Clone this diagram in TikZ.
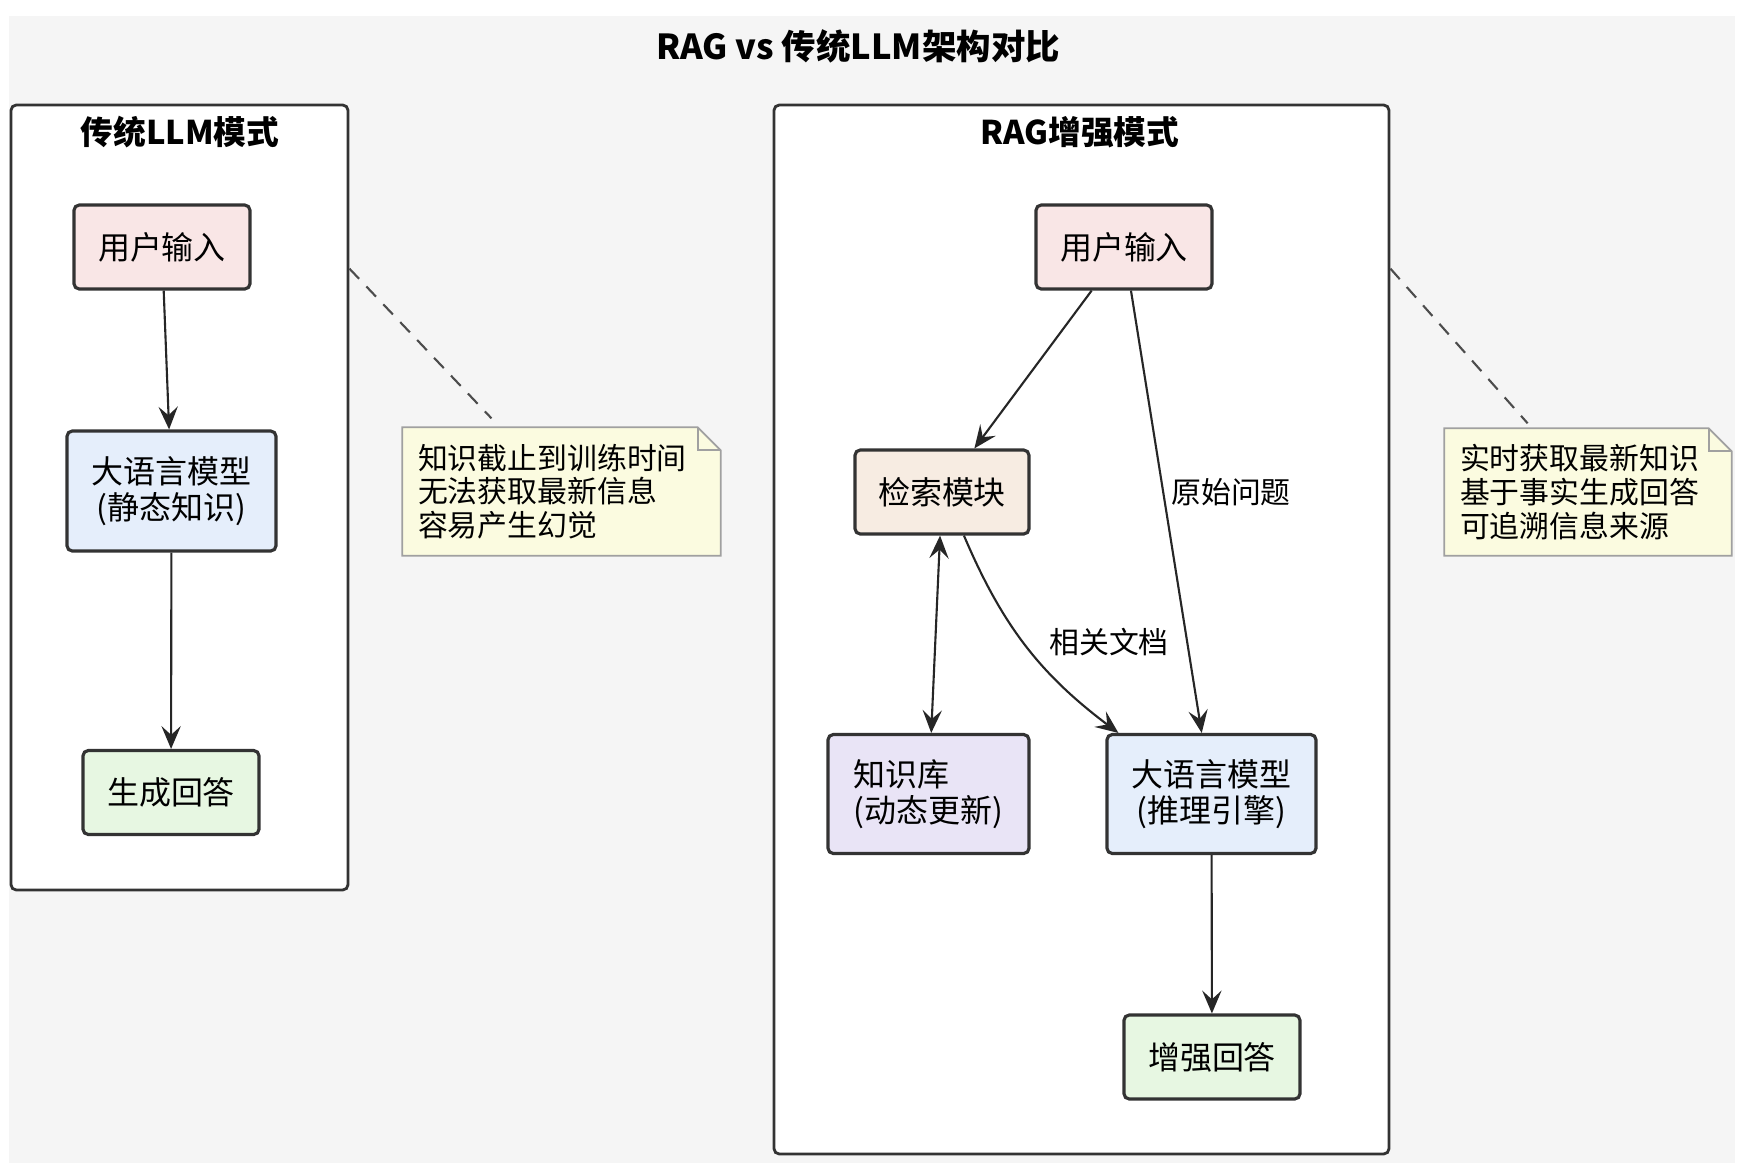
\documentclass[tikz,border=0pt]{standalone}
\usepackage{fontspec}
\setmainfont{Noto Sans CJK SC}
\usepackage{xcolor}
\usepackage{tikz}
\usetikzlibrary{arrows.meta}
\usetikzlibrary{calc}

\definecolor{panelgray}{HTML}{F5F5F5}
\definecolor{boxline}{HTML}{333333}
\definecolor{userfill}{HTML}{F9E6E6}
\definecolor{llmfill}{HTML}{E5EEFB}
\definecolor{ansfill}{HTML}{E7F7E2}
\definecolor{retfill}{HTML}{F7ECE2}
\definecolor{kbfill}{HTML}{E9E4F6}
\definecolor{notefill}{HTML}{FBFBE0}
\definecolor{noteline}{HTML}{A0A0A0}

\newcommand{\boxfont}{\fontsize{9.1pt}{10.2pt}\selectfont}
\newcommand{\notefont}{\fontsize{8.5pt}{9.6pt}\selectfont}
\newcommand{\edgefont}{\fontsize{8.5pt}{9pt}\selectfont}
\newcommand{\headfont}{\fontsize{9.3pt}{10pt}\selectfont\bfseries}

\tikzset{
    box/.style={draw=boxline, line width=0.9pt, rounded corners=1.5pt, font=\boxfont,
        align=center, minimum width=1.76cm, minimum height=0.84cm, inner sep=0pt},
    frame/.style={draw=boxline, line width=0.8pt, rounded corners=1.5pt, fill=white},
    heading/.style={font=\headfont, inner sep=0pt},
    note/.style={fill=notefill, font=\notefont, align=left, inner xsep=0.15cm, inner ysep=0pt},
    noteedge/.style={draw=noteline, line width=0.5pt},
    flow/.style={draw=black!85, line width=0.6pt, -{Stealth[length=6.5pt, width=5.5pt, inset=2.5pt]}},
    twoway/.style={draw=black!85, line width=0.6pt, {Stealth[length=6.5pt, width=5.5pt, inset=2.5pt]}-{Stealth[length=6.5pt, width=5.5pt, inset=2.5pt]}},
    memo/.style={draw=black!70, line width=0.6pt, dash pattern=on 4pt off 3pt},
    edgetext/.style={font=\edgefont, inner sep=2pt}
}

\begin{document}
\begin{tikzpicture}
    \useasboundingbox (0,0) rectangle (17.54,-11.74);
    \fill[panelgray] (0.09,-0.16) rectangle (17.35,-11.63);
    \node[heading, font=\fontsize{9.8pt}{10pt}\selectfont\bfseries] (title) at (8.58,-0.46) {RAG vs 传统LLM架构对比};

    % two frames
    \node[frame, minimum width=3.37cm, minimum height=7.85cm] (frameL) at (1.795,-4.975) {};
    \node[heading] (titleL) at (1.80,-1.32) {传统LLM模式};
    \node[frame, minimum width=6.15cm, minimum height=10.49cm] (frameR) at (10.815,-6.295) {};
    \node[heading] (titleR) at (10.80,-1.32) {RAG增强模式};

    % traditional LLM
    \node[box, fill=userfill] (userL) at (1.62,-2.47) {用户输入};
    \node[box, fill=llmfill, minimum width=2.09cm, minimum height=1.2cm] (llmL) at (1.715,-4.91) {大语言模型\\(静态知识)};
    \node[box, fill=ansfill] (ansL) at (1.71,-7.925) {生成回答};

    % RAG
    \node[box, fill=userfill] (userR) at (11.24,-2.47) {用户输入};
    \node[box, fill=retfill, minimum width=1.74cm] (ret) at (9.42,-4.92) {检索模块};
    \node[box, fill=kbfill, minimum width=2.01cm, minimum height=1.19cm, align=left] (kb) at (9.285,-7.94) {知识库\\(动态更新)};
    \node[box, fill=llmfill, minimum width=2.09cm, minimum height=1.19cm] (llmR) at (12.115,-7.94) {大语言模型\\(推理引擎)};
    \node[box, fill=ansfill] (ansR) at (12.12,-10.57) {增强回答};

    % notes
    \node[note, text width=2.87cm, minimum height=1.27cm] (noteL) at (5.615,-4.915) {知识截止到训练时间\\无法获取最新信息\\容易产生幻觉};
    \node[note, text width=2.56cm, minimum height=1.26cm] (noteR) at (15.88,-4.92) {实时获取最新知识\\基于事实生成回答\\可追溯信息来源};
    \foreach \n in {noteL,noteR}{
        \fill[panelgray] ($(\n.north east)+(-0.23,0.01)$) -- ($(\n.north east)+(0.01,0.01)$) -- ($(\n.north east)+(0.01,-0.23)$) -- cycle;
        \draw[noteedge] (\n.north west) -- ($(\n.north east)+(-0.23,0)$) -- ($(\n.north east)+(0,-0.23)$) -- (\n.south east) -- (\n.south west) -- cycle;
        \draw[noteedge] ($(\n.north east)+(-0.23,0)$) |- ($(\n.north east)+(0,-0.23)$);
    }
    \draw[memo] ($(frameL.north east)+(0,-1.65)$) -- ($(noteL.north west)!0.28!(noteL.north east)+(0,0.09)$);
    \draw[memo] ($(frameR.north east)+(0,-1.65)$) -- ($(noteR.north west)!0.29!(noteR.north east)+(0,0.05)$);

    % connectors
    \draw[flow] (userL) -- (llmL);
    \draw[flow] (llmL) -- (ansL);
    \draw[flow] (userR) -- (ret);
    \draw[flow] (userR) -- node[edgetext, pos=0.455, right] (rawq) {原始问题} (llmR);
    \draw[twoway] (ret) -- (kb);
    \draw[flow] (ret) to[bend right=15] node[edgetext, pos=0.5, right, xshift=0.15cm, yshift=0.04cm] (docs) {相关文档} (llmR);
    \draw[flow] (llmR) -- (ansR);
\end{tikzpicture}
\end{document}
